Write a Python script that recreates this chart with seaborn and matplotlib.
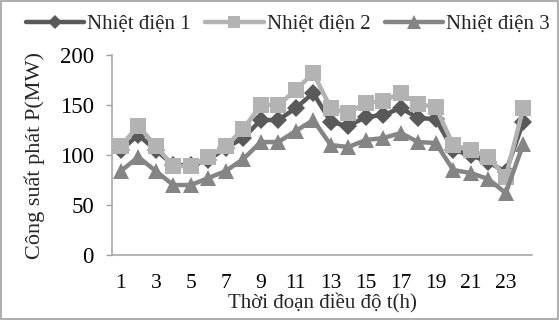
import matplotlib
matplotlib.use("Agg")
import matplotlib.pyplot as plt
import seaborn as sns
import pandas as pd
from matplotlib.patches import Rectangle

hours = list(range(1, 25))
nd1 = [105, 120, 105, 90, 90, 95, 107, 117, 135, 135, 147, 162,
       133, 129, 138, 140, 147, 137, 136, 105, 100, 93, 83, 133]
nd2 = [109, 129, 109, 89, 89, 98, 109, 126, 150, 150, 165, 182,
       147, 142, 152, 154, 162, 151, 148, 110, 105, 98, 78, 147]
nd3 = [84, 98, 84, 70, 70, 77, 84, 96, 113, 113, 124, 135,
       110, 108, 115, 117, 122, 113, 112, 85, 82, 76, 62, 111]
names = ["Nhiệt điện 1", "Nhiệt điện 2", "Nhiệt điện 3"]
xticks = list(range(1, 24, 2))

sns.set_style("white")
plt.rcParams['font.family'] = ['Liberation Serif', 'DejaVu Serif']

fig = plt.figure(figsize=(5.59, 3.2), dpi=100)
ax = fig.add_axes([0.2004, 0.203, 0.7513, 0.625])

colors = ["#595959", "#b3b3b3", "#858585"]
markers = ["D", "s", "^"]
msizes = [9, 11, 12]
for vals, name, c, m, ms in zip([nd1, nd2, nd3], names, colors, markers, msizes):
    df = pd.DataFrame({"t": hours, "P": vals})
    sns.lineplot(data=df, x="t", y="P", ax=ax, color=c, marker=m,
                 markersize=ms, linewidth=3.2, markeredgewidth=0, label=name)

ax.set_xlim(0.5, 24.5)
ax.set_ylim(0, 200)
ax.set_yticks([0, 50, 100, 150, 200])
ax.set_xticks(xticks)
ax.set_xticklabels([str(v) for v in xticks])
ax.tick_params(axis='y', labelsize=16.5, colors='black', length=4, color='#a0a0a0',
               width=1, direction='out', left=True, pad=9)
ax.tick_params(axis='x', labelsize=15.5, colors='black', length=0, pad=14)
for s in ['top', 'right']:
    ax.spines[s].set_visible(False)
for s in ['left', 'bottom']:
    ax.spines[s].set_color('#a8a8a8')
    ax.spines[s].set_linewidth(1.2)
ax.set_xlabel("Thời đoạn điều độ t(h)", fontsize=15, labelpad=0)
ax.set_ylabel("Công suất phát P(MW)", fontsize=16, labelpad=11)

leg = ax.legend(loc='center', bbox_to_anchor=(0.515, 0.925), bbox_transform=fig.transFigure,
                ncol=3, frameon=False, fontsize=15, handlelength=2.8, handletextpad=0.15,
                columnspacing=0.7, borderaxespad=0, markerscale=0.8)

fig.patches.append(Rectangle((0.002, 0.003), 0.996, 0.994, transform=fig.transFigure,
                             fill=False, edgecolor='#a0a0a0', linewidth=1.2))
fig.savefig("out.png", dpi=100)
